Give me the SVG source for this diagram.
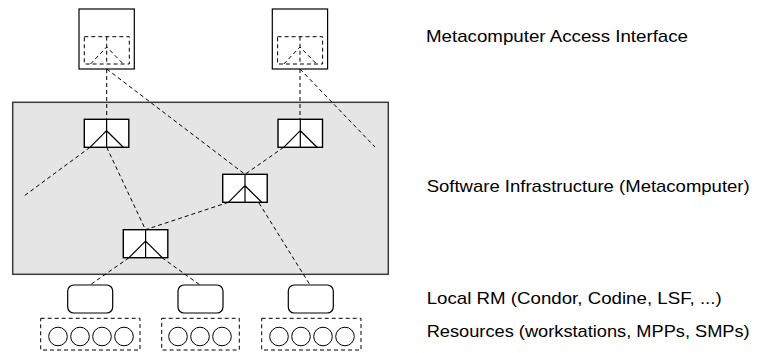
<svg xmlns="http://www.w3.org/2000/svg" width="758" height="353" viewBox="0 0 758 353">
<defs>
<style>
.dash{fill:none;stroke:#000;stroke-width:1;stroke-dasharray:4,3}
.box{fill:#fff;stroke:#000;stroke-width:1.2}
.rt{fill:#fff;stroke:#000;stroke-width:1.4}
.ln{fill:none;stroke:#000;stroke-width:1.2}
.rm{fill:#fff;stroke:#000;stroke-width:1.2}
.cir{fill:#fff;stroke:#000;stroke-width:1}
.lbl{font-family:"Liberation Sans",Arial,sans-serif;font-size:17px;fill:#000}
</style>
<g id="router">
<rect class="rt" x="0" y="0" width="44.5" height="28"/>
<path class="ln" d="M22.3 0V28M5.7 28L22.3 11.4L39 28"/>
</g>
<g id="iface">
<rect class="box" x="0" y="0" width="55.3" height="60"/>
<rect class="dash" x="5.3" y="27.7" width="45" height="27.3"/>
<path class="dash" d="M27.7 27.7V55M11.5 55L27.7 38L44.3 55"/>
</g>
</defs>

<g id="infrastructure">
<rect x="12.7" y="102.3" width="375.6" height="172" fill="#e5e5e5" stroke="#3a3a3a" stroke-width="1.5"/>
</g>

<g id="connectors">
<path class="dash" d="M106.7 69V119.3"/>
<path class="dash" d="M106.7 69L245 174.3"/>
<path class="dash" d="M300 69V119.3"/>
<path class="dash" d="M300 69L375 147"/>
<path class="dash" d="M90 147.3L24 196"/>
<path class="dash" d="M106.7 147.3L145.5 229.7"/>
<path class="dash" d="M283.7 147.3L245 174.3"/>
<path class="dash" d="M228.4 202.3L145.5 229.7"/>
<path class="dash" d="M259 203L310 285"/>
<path class="dash" d="M129 257.7L90 285"/>
<path class="dash" d="M162 257.7L200 285"/>
</g>

<g id="interface1"><use href="#iface" x="79" y="9"/></g>
<g id="interface2"><use href="#iface" x="272.3" y="9"/></g>

<g id="nodeA"><use href="#router" x="84.3" y="119.3"/></g>
<g id="nodeB"><use href="#router" x="278" y="119.3"/></g>
<g id="nodeC"><use href="#router" x="222.7" y="174.3"/></g>
<g id="nodeD"><use href="#router" x="123.3" y="229.7"/></g>

<g id="localRM1"><rect class="rm" x="67.7" y="285" width="45" height="28" rx="6"/></g>
<g id="localRM2"><rect class="rm" x="178" y="285" width="45" height="28" rx="6"/></g>
<g id="localRM3"><rect class="rm" x="288.3" y="285" width="45" height="28" rx="6"/></g>

<g id="resources1">
<rect class="dash" x="40.7" y="318.3" width="99.3" height="31.7"/>
<circle class="cir" cx="58" cy="336.5" r="9.3"/>
<circle class="cir" cx="80" cy="336.5" r="9.3"/>
<circle class="cir" cx="102" cy="336.5" r="9.3"/>
<circle class="cir" cx="124" cy="336.5" r="9.3"/>
</g>
<g id="resources2">
<rect class="dash" x="161.7" y="318.3" width="77.6" height="31.7"/>
<circle class="cir" cx="178" cy="336.5" r="9.3"/>
<circle class="cir" cx="200" cy="336.5" r="9.3"/>
<circle class="cir" cx="222" cy="336.5" r="9.3"/>
</g>
<g id="resources3">
<rect class="dash" x="261.7" y="318.3" width="99.3" height="31.7"/>
<circle class="cir" cx="279" cy="336.5" r="9.3"/>
<circle class="cir" cx="301" cy="336.5" r="9.3"/>
<circle class="cir" cx="323" cy="336.5" r="9.3"/>
<circle class="cir" cx="345" cy="336.5" r="9.3"/>
</g>

<g id="labels">
<text class="lbl" x="426" y="42" textLength="262" lengthAdjust="spacingAndGlyphs">Metacomputer Access Interface</text>
<text class="lbl" x="426.7" y="192" textLength="323" lengthAdjust="spacingAndGlyphs">Software Infrastructure (Metacomputer)</text>
<text class="lbl" x="426.7" y="304" textLength="295" lengthAdjust="spacingAndGlyphs">Local RM (Condor, Codine, LSF, ...)</text>
<text class="lbl" x="426.7" y="337" textLength="323" lengthAdjust="spacingAndGlyphs">Resources (workstations, MPPs, SMPs)</text>
</g>
</svg>
